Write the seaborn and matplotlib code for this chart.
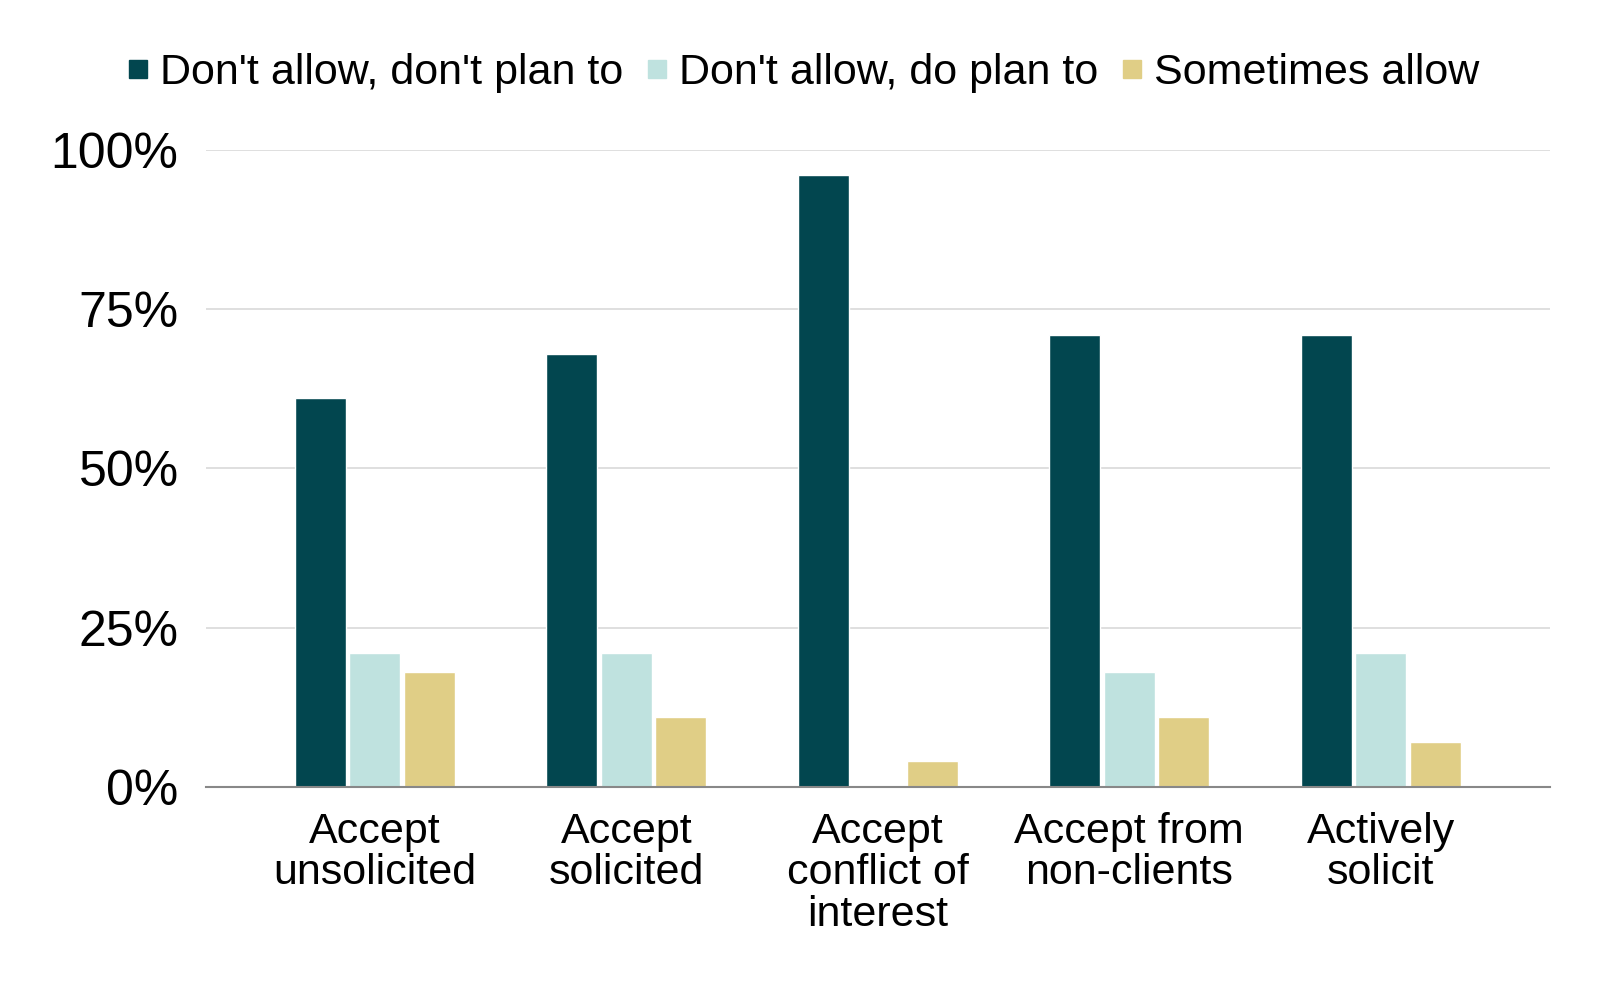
import matplotlib
matplotlib.use("Agg")
import matplotlib.pyplot as plt
import seaborn as sns
import pandas as pd
from matplotlib.lines import Line2D

categories = ["Accept\nunsolicited", "Accept\nsolicited", "Accept\nconflict of\ninterest",
              "Accept from\nnon-clients", "Actively\nsolicit"]
series = ["Don't allow, don't plan to", "Don't allow, do plan to", "Sometimes allow"]
dont_plan = [61, 68, 96, 71, 71]
do_plan = [21, 21, 0, 18, 21]
sometimes = [18, 11, 4, 11, 7]
yticks = [0, 25, 50, 75, 100]
colors = ["#02464F", "#BFE2DF", "#E0CE86"]

rows = []
for name, vals in zip(series, [dont_plan, do_plan, sometimes]):
    for c, v in zip(categories, vals):
        rows.append({"cat": c, "series": name, "value": v})
df = pd.DataFrame(rows)

sns.set_theme(style="white")
plt.rcParams['font.family'] = ['Liberation Sans', 'DejaVu Sans']
plt.rcParams['text.color'] = 'black'
plt.rcParams['xtick.color'] = 'black'
plt.rcParams['ytick.color'] = 'black'

fig = plt.figure(figsize=(16, 9.86), dpi=100)
ax = fig.add_axes([0.129, 0.202, 0.840, 0.646])
sns.barplot(data=df, x="cat", y="value", hue="series", order=categories,
            hue_order=series, palette=colors, width=0.65, gap=0.06,
            saturation=1, ax=ax, legend=False, errorbar=None)

ax.set_ylim(0, 100)
ax.set_xlim(-0.67, 4.675)
ax.set_yticks(yticks)
ax.set_yticklabels([f"{v}%" for v in yticks], fontsize=36, color="black")
ax.tick_params(axis='y', length=0, pad=20)
ax.tick_params(axis='x', length=0, pad=18, labelsize=31, labelcolor="black")
for lbl in ax.get_xticklabels():
    lbl.set_linespacing(1.05)
ax.set_xlabel("")
ax.set_ylabel("")
ax.yaxis.grid(True, color="#D9D9D9", linewidth=1.2)
ax.set_axisbelow(True)
for s in ["top", "right", "left"]:
    ax.spines[s].set_visible(False)
ax.spines["bottom"].set_color("#888888")
ax.spines["bottom"].set_linewidth(1.5)
ax.spines["bottom"].set_zorder(5)

handles = [Line2D([0], [0], marker="s", linestyle="none", markersize=13,
                  markerfacecolor=c, markeredgecolor=c) for c in colors]
fig.legend(handles, series, loc="center", bbox_to_anchor=(0.5, 0.926), ncol=3,
           frameon=False, fontsize=31, handletextpad=0.12, columnspacing=0.37,
           handlelength=0.8, labelcolor="black")

fig.savefig("out.png", dpi=100)
